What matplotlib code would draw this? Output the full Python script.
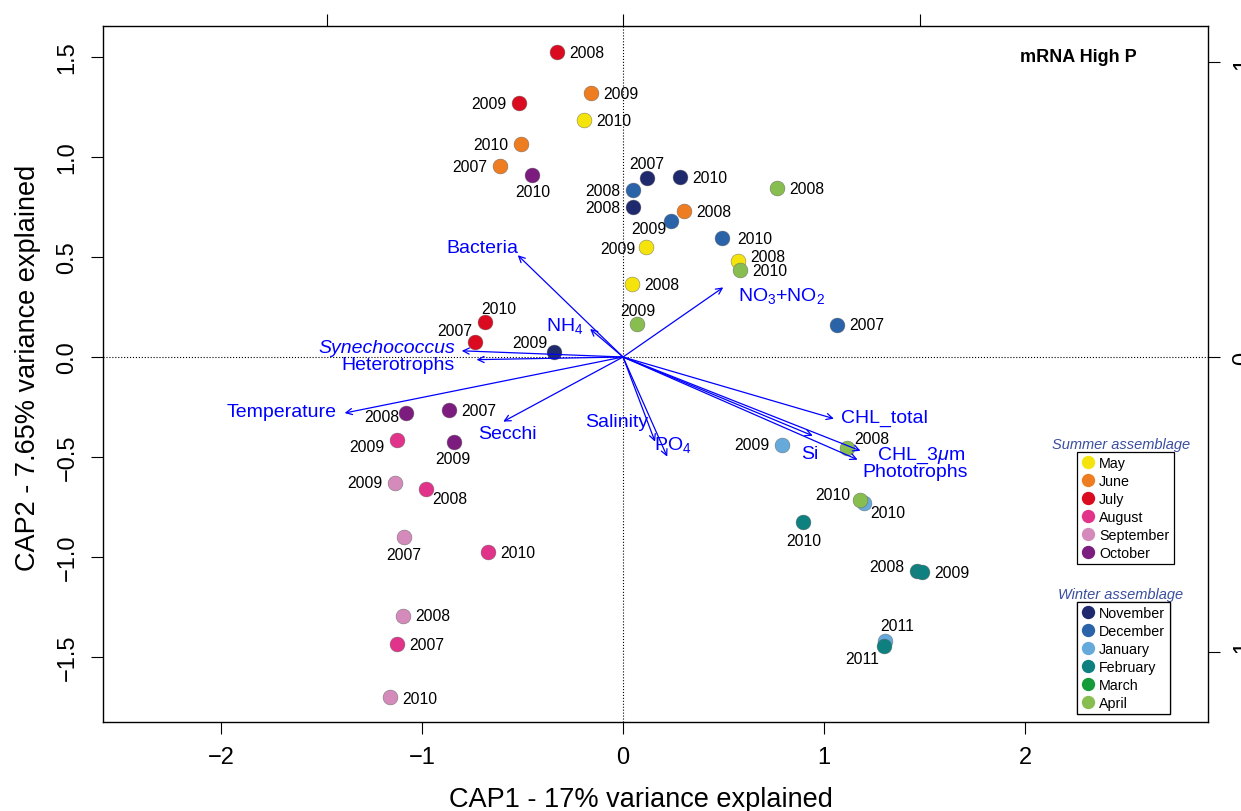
import numpy as np
import matplotlib.pyplot as plt
from matplotlib.lines import Line2D

plt.rcParams['font.family'] = 'Liberation Sans'
plt.rcParams['mathtext.fontset'] = 'custom'
plt.rcParams['mathtext.rm'] = 'Liberation Sans'
plt.rcParams['mathtext.it'] = 'Liberation Sans:italic'

summer = ['May', 'June', 'July', 'August', 'September', 'October']
winter = ['November', 'December', 'January', 'February', 'March', 'April']
month_col = {
    'May': '#F4E40C', 'June': '#EE7D22', 'July': '#DA0B20',
    'August': '#E2338A', 'September': '#D48BBB', 'October': '#7B1C7E',
    'November': '#1F2A6E', 'December': '#2B63A9', 'January': '#66AADB',
    'February': '#0E8080', 'March': '#169B3B', 'April': '#88BD50',
}

# site scores on CAP1 / CAP2
site_month = ['May', 'May', 'May', 'May',
              'June', 'June', 'June', 'June',
              'July', 'July', 'July', 'July',
              'August', 'August', 'August', 'August',
              'September', 'September', 'September', 'September',
              'October', 'October', 'October', 'October',
              'November', 'November', 'November', 'November',
              'December', 'December', 'December', 'December',
              'January', 'January', 'January',
              'February', 'February', 'February', 'February',
              'April', 'April', 'April', 'April', 'April']
site_year = ['2010', '2009', '2008', '2008',
             '2009', '2010', '2007', '2008',
             '2008', '2009', '2010', '2007',
             '2010', '2009', '2008', '2007',
             '2009', '2007', '2008', '2010',
             '2010', '2008', '2007', '2009',
             '2007', '2010', '2008', '2009',
             '2008', '2009', '2010', '2007',
             '2009', '2010', '2011',
             '2010', '2008', '2009', '2011',
             '2008', '2010', '2009', '2008', '2010']
site_x = [-0.194, 0.114, 0.045, 0.572,
          -0.159, -0.507, -0.612, 0.303,
          -0.328, -0.517, -0.687, -0.736,
          -0.672, -1.124, -0.980, -1.124,
          -1.134, -1.090, -1.095, -1.159,
          -0.453, -1.080, -0.866, -0.841,
          0.119, 0.284, 0.050, -0.343,
          0.050, 0.239, 0.493, 1.065,
          0.791, 1.199, 1.303,
          0.896, 1.463, 1.488, 1.299,
          0.766, 0.582, 0.070, 1.114, 1.179]
site_y = [1.185, 0.550, 0.365, 0.480,
          1.320, 1.065, 0.955, 0.730,
          1.525, 1.270, 0.175, 0.075,
          -0.975, -0.415, -0.660, -1.435,
          -0.630, -0.900, -1.295, -1.700,
          0.910, -0.280, -0.265, -0.425,
          0.895, 0.900, 0.750, 0.025,
          0.835, 0.680, 0.595, 0.160,
          -0.440, -0.730, -1.420,
          -0.825, -1.070, -1.075, -1.445,
          0.845, 0.435, 0.165, -0.455, -0.715]

# year label offsets (pixels: right, down)
year_off = [(30, 0), (-28, 2), (30, 0), (30, -5),
            (30, 0), (-30, 0), (-30, 0), (30, 0),
            (30, 0), (-30, 0), (14, -13), (-20, -11),
            (30, 0), (-30, 6), (24, 10), (30, 0),
            (-30, 0), (0, 17), (30, 0), (30, 2),
            (1, 16), (-24, 4), (30, 0), (-1, 16),
            (0, -15), (30, 0), (-30, 0), (-24, -9),
            (-30, 0), (-22, 7), (33, 0), (30, 0),
            (-30, 0), (24, 9), (12, -15),
            (1, 19), (-30, -4), (30, 0), (-22, 12),
            (30, 0), (30, 0), (1, -13), (25, -9), (-27, -5)]

# environmental fit vectors
env_names = ['Bacteria', r'NO$_3$+NO$_2$', r'NH$_4$', 'Synechococcus',
             'Heterotrophs', 'Temperature', 'Secchi', 'Salinity', r'PO$_4$',
             'CHL_total', 'Si', r'CHL_3$\mu$m', 'Phototrophs']
env_x = [-0.355, 0.338, -0.111, -0.544, -0.494, -0.939, -0.404, 0.108,
         0.149, 0.711, 0.640, 0.801, 0.791]
env_y = [0.345, 0.236, 0.095, 0.021, -0.009, -0.190, -0.219, -0.287,
         -0.338, -0.209, -0.267, -0.318, -0.348]
env_lab = [((1, -8), 'right'), ((15, 8), 'left'), ((-7, -4), 'right'),
           ((-7, -3), 'right'), ((-22, 5), 'right'), ((-8, -2), 'right'),
           ((4, 12), 'center'), ((-38, -20), 'center'), ((6, -13), 'center'),
           ((7, -1), 'left'), ((-3, 18), 'center'), ((16, 4), 'left'),
           ((5, 12), 'left')]

fig = plt.figure(figsize=(12.41, 8.12), dpi=100)
ax = fig.add_axes([103 / 1241, 89 / 812, 1105 / 1241, 696 / 812])
ax.set_xlim(-2.587, 2.910)
ax.set_ylim(-1.825, 1.655)
ax.axhline(0, color='k', ls=':', lw=0.8, zorder=0)
ax.axvline(0, color='k', ls=':', lw=0.8, zorder=0)

order = summer + winter
for m in order:
    idx = [i for i, mm in enumerate(site_month) if mm == m]
    if not idx:
        continue
    ax.scatter([site_x[i] for i in idx], [site_y[i] for i in idx], s=115,
               c=month_col[m], edgecolors='0.4', linewidths=0.3, zorder=3)
for i in range(len(site_x)):
    dx, dy = year_off[i]
    ax.annotate(site_year[i], (site_x[i], site_y[i]), xytext=(dx, -dy),
                textcoords='offset pixels', ha='center', va='center',
                fontsize=11.3, zorder=4)

ax.set_xticks([-2, -1, 0, 1, 2])
ax.set_xticklabels(['\u22122', '\u22121', '0', '1', '2'])
ax.set_yticks([-1.5, -1.0, -0.5, 0.0, 0.5, 1.0, 1.5])
ax.set_yticklabels(['\u22121.5', '\u22121.0', '\u22120.5', '0.0', '0.5', '1.0', '1.5'])
ax.tick_params(length=8.6, width=0.8, labelsize=17, pad=9)
plt.setp(ax.get_yticklabels(), rotation=90, va='center', ha='right')
for sp in ax.spines.values():
    sp.set_linewidth(1.0)

xl = ax.set_xlabel('CAP1 - 17% variance explained', fontsize=19.5)
xl.set_va('center')
ax.xaxis.set_label_coords(0.487, -0.111)
yl = ax.set_ylabel('CAP2 - 7.65% variance explained', fontsize=19.5)
yl.set_va('center')
ax.yaxis.set_label_coords(-0.068, 0.51)

# biplot arrow axes on top / right
k = 0.678
ax2 = fig.add_axes(ax.get_position(), frameon=False)
ax2.set_xlim(-2.587 * k, 2.910 * k)
ax2.set_ylim(-1.825 * k, 1.655 * k)
ax2.xaxis.tick_top()
ax2.yaxis.tick_right()
ax2.set_xticks([-1, 0, 1])
ax2.set_yticks([-1, 0, 1])
ax2.tick_params(length=8.6, width=0.8, labelsize=17, pad=9)
ax2.tick_params(axis='x', labeltop=False)
plt.setp(ax2.get_yticklabels(), rotation=90, va='center', ha='left')

for i, name in enumerate(env_names):
    ax2.annotate('', xy=(env_x[i], env_y[i]), xytext=(0, 0),
                 arrowprops=dict(arrowstyle='->', color='blue', lw=0.9,
                                 shrinkA=0, shrinkB=0, mutation_scale=11))
    (dx, dy), ha = env_lab[i]
    ax2.annotate(name, (env_x[i], env_y[i]), xytext=(dx, -dy),
                 textcoords='offset pixels', ha=ha, va='center',
                 color='blue', fontsize=14,
                 style='italic' if name == 'Synechococcus' else 'normal')

ax.text(0.8824, 0.9555, 'mRNA High P', transform=ax.transAxes, ha='center',
        va='center', fontsize=13, fontweight='bold')


def month_legend(names, title, top):
    handles = [Line2D([], [], ls='none', marker='o', markersize=9.6,
                      markerfacecolor=month_col[n], markeredgecolor='none',
                      label=n) for n in names]
    leg = ax.legend(handles=handles, loc='upper left',
                    bbox_to_anchor=(0.8814, top), fontsize=10.3,
                    frameon=True, fancybox=False, edgecolor='k',
                    borderpad=0.3, labelspacing=0.27, handlelength=0.9,
                    handletextpad=0.35, borderaxespad=0, framealpha=1)
    leg.get_frame().set_linewidth(0.9)
    ax.add_artist(leg)
    ax.text(0.921, top + 0.0115, title, transform=ax.transAxes, ha='center',
            va='center', fontsize=10.5, style='italic', color='#3A4E9E')


month_legend(summer, 'Summer assemblage', 0.388)
month_legend(winter, 'Winter assemblage', 0.1724)

fig.savefig('out.png', dpi=100)
